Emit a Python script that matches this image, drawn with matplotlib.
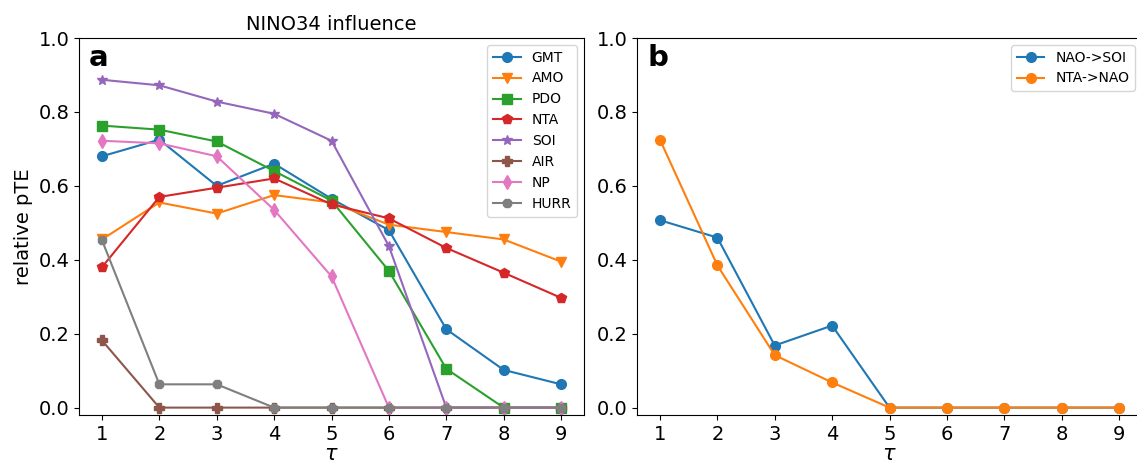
import matplotlib.pyplot as plt
import numpy as np

# lags
tau = [1, 2, 3, 4, 5, 6, 7, 8, 9]

# panel a: NINO34 influence on each index
gmt = [0.68, 0.725, 0.60, 0.66, 0.565, 0.48, 0.212, 0.102, 0.063]
amo = [0.455, 0.555, 0.525, 0.575, 0.555, 0.495, 0.475, 0.455, 0.395]
pdo = [0.763, 0.752, 0.72, 0.64, 0.56, 0.37, 0.105, 0.0, 0.0]
nta = [0.38, 0.57, 0.595, 0.62, 0.55, 0.512, 0.432, 0.365, 0.297]
soi = [0.887, 0.872, 0.828, 0.795, 0.722, 0.437, 0.0, 0.0, 0.0]
air = [0.182, 0.0, 0.0, 0.0, 0.0, 0.0, 0.0, 0.0, 0.0]
np_ = [0.722, 0.715, 0.68, 0.535, 0.355, 0.0, 0.0, 0.0, 0.0]
hurr = [0.453, 0.063, 0.063, 0.0, 0.0, 0.0, 0.0, 0.0, 0.0]

# panel b
nao_soi = [0.507, 0.46, 0.168, 0.222, 0.0, 0.0, 0.0, 0.0, 0.0]
nta_nao = [0.725, 0.385, 0.142, 0.068, 0.0, 0.0, 0.0, 0.0, 0.0]

series_a = [("GMT", gmt, "o"), ("AMO", amo, "v"), ("PDO", pdo, "s"),
            ("NTA", nta, "p"), ("SOI", soi, "*"), ("AIR", air, "P"),
            ("NP", np_, "d"), ("HURR", hurr, "8")]

plt.rcParams['font.family'] = 'DejaVu Sans'

fig = plt.figure(figsize=(11.37, 4.65), dpi=100)
W, H = 1137, 465
ax1 = fig.add_axes([79 / W, 50 / H, 505 / W, 377 / H])
ax2 = fig.add_axes([637 / W, 50 / H, 505 / W, 377 / H])

for name, vals, mk in series_a:
    ax1.plot(tau, vals, marker=mk, markersize=7, lw=1.5, label=name)

ax2.plot(tau, nao_soi, marker="o", markersize=7, lw=1.5, label="NAO->SOI")
ax2.plot(tau, nta_nao, marker="o", markersize=7, lw=1.5, label="NTA->NAO")

for ax, letter in [(ax1, "a"), (ax2, "b")]:
    ax.set_ylim(-0.02, 1.0)
    ax.set_xticks(tau)
    ax.set_yticks([0.0, 0.2, 0.4, 0.6, 0.8, 1.0])
    ax.tick_params(labelsize=14)
    ax.set_xlabel(r"$\tau$", fontsize=15, labelpad=0)
    ax.text(0.02, 0.985, letter, transform=ax.transAxes, va="top", ha="left",
            fontsize=21, fontweight="bold")
    ax.legend(loc="upper right", fontsize=10)

ax1.set_ylabel("relative pTE", fontsize=14)
ax1.set_title("NINO34 influence", fontsize=14)

fig.savefig("out.png", dpi=100)
